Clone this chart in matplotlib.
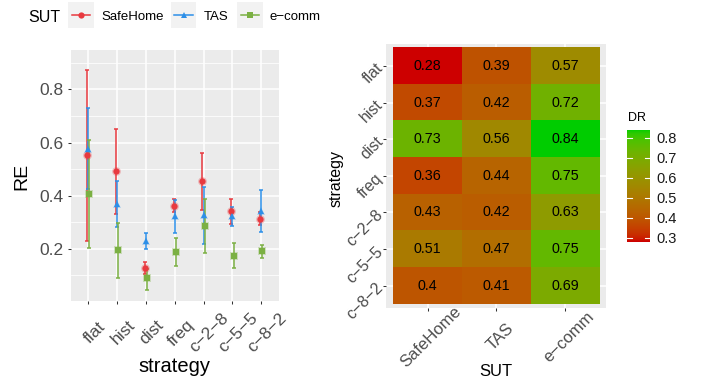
import numpy as np
import matplotlib
matplotlib.use('Agg')
import matplotlib.pyplot as plt
from matplotlib.colors import ListedColormap
from matplotlib.transforms import blended_transform_factory, ScaledTranslation
from matplotlib.lines import Line2D
from matplotlib.patches import Rectangle

plt.rcParams['font.family'] = ['Liberation Sans', 'DejaVu Sans']

# Categories
strategies = ['flat', 'hist', 'dist', 'freq', 'c−2−8', 'c−5−5', 'c−8−2']
suts = ['SafeHome', 'TAS', 'e−comm']

# RE: mean, lower and upper error bar, per SUT (left panel)
re_safehome = [0.552, 0.492, 0.127, 0.360, 0.454, 0.341, 0.311]
re_safehome_lo = [0.231, 0.332, 0.106, 0.338, 0.347, 0.294, 0.288]
re_safehome_hi = [0.873, 0.651, 0.152, 0.386, 0.561, 0.386, 0.338]
re_tas = [0.575, 0.370, 0.231, 0.322, 0.326, 0.322, 0.342]
re_tas_lo = [0.426, 0.284, 0.200, 0.259, 0.219, 0.285, 0.263]
re_tas_hi = [0.731, 0.454, 0.260, 0.385, 0.432, 0.357, 0.423]
re_ecomm = [0.405, 0.194, 0.089, 0.187, 0.285, 0.175, 0.191]
re_ecomm_lo = [0.202, 0.089, 0.045, 0.134, 0.183, 0.127, 0.165]
re_ecomm_hi = [0.609, 0.298, 0.124, 0.240, 0.389, 0.221, 0.216]

# DR heatmap values (right panel), one list per SUT
dr_safehome = [0.28, 0.37, 0.73, 0.36, 0.43, 0.51, 0.40]
dr_tas = [0.39, 0.42, 0.56, 0.44, 0.42, 0.47, 0.41]
dr_ecomm = [0.57, 0.72, 0.84, 0.75, 0.63, 0.75, 0.69]

colors = ['#E8393F', '#2D8FE8', '#7BB043']
markers = ['o', '^', 's']

W, H = 702, 383
TXT = '#4D4D4D'
PANEL = '#EBEBEB'


def px(x, y):
    # pixel position (from top-left) -> figure fraction
    return x / W, 1 - y / H


# ggplot-style gradient: interpolate red3 -> green3 in CIELAB
M = np.array([[0.4124564, 0.3575761, 0.1804375],
              [0.2126729, 0.7151522, 0.0721750],
              [0.0193339, 0.1191920, 0.9503041]])
WHITE = np.array([0.95047, 1.0, 1.08883])


def srgb_to_lab(rgb):
    rgb = np.asarray(rgb, float)
    lin = np.where(rgb <= 0.04045, rgb / 12.92, ((rgb + 0.055) / 1.055) ** 2.4)
    xyz = M @ lin / WHITE
    f = np.where(xyz > 0.008856, np.cbrt(xyz), 7.787 * xyz + 16 / 116)
    return np.array([116 * f[1] - 16, 500 * (f[0] - f[1]), 200 * (f[1] - f[2])])


def lab_to_srgb(lab):
    L, a, b = lab
    fy = (L + 16) / 116
    f = np.stack([fy + a / 500, fy, fy - b / 200])
    xyz = np.where(f ** 3 > 0.008856, f ** 3, (f - 16 / 116) / 7.787) * WHITE[:, None]
    lin = np.clip(np.linalg.inv(M) @ xyz, 0, 1)
    rgb = np.where(lin <= 0.0031308, 12.92 * lin, 1.055 * lin ** (1 / 2.4) - 0.055)
    return np.clip(rgb.T, 0, 1)


lo_lab = srgb_to_lab([205 / 255, 0, 0])
hi_lab = srgb_to_lab([0, 205 / 255, 0])
t = np.linspace(0, 1, 256)
cmap = ListedColormap(lab_to_srgb(lo_lab[:, None] * (1 - t) + hi_lab[:, None] * t))

fig = plt.figure(figsize=(W / 100, H / 100), dpi=100)

# ---------------- left panel: RE with error bars ----------------
ax = fig.add_axes([71 / W, 1 - 300.7 / H, 207.5 / W, 250.7 / H])
ax.set_facecolor(PANEL)
for s in ax.spines.values():
    s.set_visible(False)

x = np.arange(len(strategies))
series = [(re_safehome, re_safehome_lo, re_safehome_hi),
          (re_tas, re_tas_lo, re_tas_hi),
          (re_ecomm, re_ecomm_lo, re_ecomm_hi)]
dodge = [-0.04, 0, 0.04]
for k, (m, lo, hi) in enumerate(series):
    m, lo, hi = np.array(m), np.array(lo), np.array(hi)
    xs = x + dodge[k]
    ax.errorbar(xs, m, yerr=[m - lo, hi - m], fmt='none', ecolor=colors[k],
                elinewidth=1.1, capsize=1.6, capthick=1.1, zorder=3)
    ax.plot(xs, m, linestyle='none', marker=markers[k], color=colors[k],
            markersize=6.3, alpha=0.3, markeredgewidth=0, zorder=4)
    ax.plot(xs, m, linestyle='none', marker=markers[k], color=colors[k],
            markersize=4.5, markeredgewidth=0, zorder=5)

ax.set_xlim(-0.6, len(strategies) - 0.4)
ax.set_ylim(0.005, 0.948)
ax.set_yticks([0.2, 0.4, 0.6, 0.8])
ax.set_yticks([0.1, 0.3, 0.5, 0.7, 0.9], minor=True)
ax.set_xticks(x)
ax.set_xticklabels([])
ax.grid(which='major', color='white', linewidth=1.1)
ax.grid(which='minor', axis='y', color='white', linewidth=0.55)
ax.set_axisbelow(True)
ax.tick_params(which='major', length=2.2, width=0.75, color='#333333',
               labelsize=12.5, labelcolor=TXT, pad=3.5)
ax.tick_params(which='minor', length=0)

trans = blended_transform_factory(ax.transData, ax.transAxes)
off = ScaledTranslation(6 / 100, -32 / 100, fig.dpi_scale_trans)
for i, lab in enumerate(strategies):
    ax.text(i, 0, lab, transform=trans + off, rotation=45, rotation_mode='anchor',
            ha='center', va='center', fontsize=12.5, color=TXT)

fig.text(*px(21.7, 176.7), 'RE', rotation=90, ha='center', va='center', fontsize=14)
fig.text(*px(174.5, 366.6), 'strategy', ha='center', va='center', fontsize=14.5)

# legend on top
fig.text(*px(28.3, 21.5), 'SUT', ha='left', va='baseline', fontsize=11.5)
key_x = [68.3, 171, 237.3]
lab_x = [101.7, 204, 270]
for k, name in enumerate(suts):
    kx0, ky0 = px(key_x[k], 28)
    fig.add_artist(Rectangle((kx0, ky0), 25.3 / W, 26 / H, transform=fig.transFigure,
                             facecolor='#F2F2F2', edgecolor='none'))
    xa, ya = px(key_x[k] + 3.4, 15)
    xb, _ = px(key_x[k] + 22, 15)
    fig.add_artist(Line2D([xa, (xa + xb) / 2, xb], [ya, ya, ya], transform=fig.transFigure,
                          color=colors[k], linewidth=1.1, marker=markers[k],
                          markevery=[1], markersize=4.5, markeredgewidth=0))
    fig.text(*px(lab_x[k], 20), name, ha='left', va='baseline', fontsize=9.5)

# ---------------- right panel: DR heatmap ----------------
hx = fig.add_axes([386.4 / W, 1 - 307.5 / H, 220.1 / W, 263.5 / H])
hx.set_facecolor(PANEL)
for s in hx.spines.values():
    s.set_visible(False)

dr = np.column_stack([dr_safehome, dr_tas, dr_ecomm])
im = hx.imshow(dr, cmap=cmap, vmin=dr.min(), vmax=dr.max(), aspect='auto', zorder=1)
for i in range(dr.shape[0]):
    for j in range(dr.shape[1]):
        hx.text(j, i, f'{dr[i, j]:g}', ha='center', va='center', fontsize=10.3,
                color='black', zorder=2)

hx.set_xlim(-0.6, 2.6)
hx.set_ylim(6.6, -0.6)
hx.set_xticks(range(len(suts)))
hx.set_yticks(range(len(strategies)))
hx.set_xticklabels([])
hx.set_yticklabels([])
hx.grid(color='white', linewidth=1.1)
hx.set_axisbelow(True)
hx.tick_params(length=2.2, width=0.75, color='#333333')

trans = blended_transform_factory(hx.transData, hx.transAxes)
off = ScaledTranslation(3.5 / 100, -29.5 / 100, fig.dpi_scale_trans)
for j, lab in enumerate(suts):
    hx.text(j, 0, lab, transform=trans + off, rotation=45, rotation_mode='anchor',
            ha='center', va='center', fontsize=12, color=TXT)

trans = blended_transform_factory(hx.transAxes, hx.transData)
off = ScaledTranslation(-6 / 100, 0, fig.dpi_scale_trans)
for i, lab in enumerate(strategies):
    hx.text(0, i, lab, transform=trans + off, rotation=45, rotation_mode='anchor',
            ha='right', va='center', fontsize=11.5, color=TXT)

fig.text(*px(496.3, 371.7), 'SUT', ha='center', va='center', fontsize=12)
fig.text(*px(336.5, 178.3), 'strategy', rotation=90, ha='center', va='center', fontsize=11.5)

# colour bar
cax = fig.add_axes([627 / W, 1 - 241.7 / H, 23 / W, 111.7 / H])
cb = fig.colorbar(im, cax=cax)
cb.outline.set_visible(False)
cb.set_ticks([0.3, 0.4, 0.5, 0.6, 0.7, 0.8])
cax.tick_params(length=0, pad=4.3, labelsize=10.5, labelcolor='#1A1A1A')
for v in [0.3, 0.4, 0.5, 0.6, 0.7, 0.8]:
    cax.axhline(v, xmin=0, xmax=0.2, color='white', linewidth=0.8)
    cax.axhline(v, xmin=0.8, xmax=1, color='white', linewidth=0.8)
fig.text(*px(628, 120.7), 'DR', ha='left', va='baseline', fontsize=9)

fig.savefig('out.png', dpi=100)
